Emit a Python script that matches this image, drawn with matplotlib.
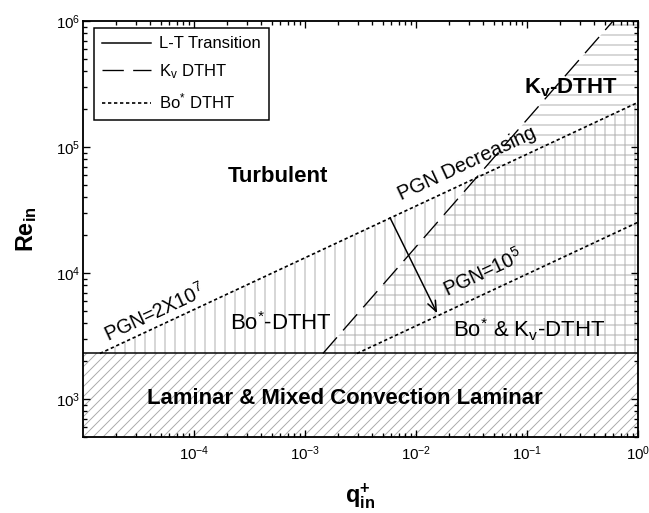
import matplotlib
matplotlib.use('Agg')
import matplotlib.pyplot as plt
from matplotlib.ticker import LogLocator, NullFormatter

# boundaries of the regime map (q+_in, Re_in)
lt_q = [1e-5, 1.0]            # laminar-turbulent transition
lt_re = [2300, 2300]
kv_q = [1.45e-3, 0.596]       # Kv DTHT criterion
kv_re = [2300, 1e6]
bo_hi_q = [1.42e-5, 1.0]      # Bo* DTHT, PGN = 2x10^7
bo_hi_re = [2300, 2.26e5]
bo_lo_q = [2.94e-3, 1.0]      # Bo* DTHT, PGN = 10^5
bo_lo_re = [2300, 2.53e4]

arrow_from = (5.83e-3, 2.75e4)
arrow_to = (1.55e-2, 4800)

xlim = (1e-5, 1.0)
ylim = (500, 1e6)
xticks = [1e-4, 1e-3, 1e-2, 1e-1, 1.0]
yticks = [1e3, 1e4, 1e5, 1e6]

plt.rcParams['font.family'] = ['Liberation Sans', 'DejaVu Sans']
plt.rcParams['mathtext.default'] = 'regular'
plt.rcParams['hatch.linewidth'] = 1.1
plt.rcParams['hatch.color'] = '#a8a8a8'

DPI = 60
fig = plt.figure(figsize=(649 / DPI, 513 / DPI), dpi=DPI)
ax = fig.add_axes([83 / 649, 1 - 437 / 513, 555 / 649, 416 / 513])
ax.set_xscale('log')
ax.set_yscale('log')
ax.set_xlim(*xlim)
ax.set_ylim(*ylim)

hatch_col = '#a8a8a8'
# laminar region
ax.fill_between(xlim, ylim[0], lt_re[0], facecolor='none', edgecolor=hatch_col,
                hatch='//', linewidth=0, zorder=0.5)
# Bo* region (vertical lines)
ax.fill_between(bo_hi_q, lt_re[0], bo_hi_re, facecolor='none', edgecolor=hatch_col,
                hatch='|', linewidth=0, zorder=0.5)
# Kv region (horizontal lines)
ax.fill_betweenx(kv_re, kv_q, xlim[1], facecolor='none', edgecolor=hatch_col,
                 hatch='-', linewidth=0, zorder=0.5)

dots = (0, (2, 1.6))
ax.plot(lt_q, lt_re, color='black', lw=1.8, label='L-T Transition', zorder=2)
ax.plot(kv_q, kv_re, color='black', lw=1.6, linestyle=(0, (16, 7)),
        label=r'$K_v$ DTHT', zorder=2)
ax.plot(bo_hi_q, bo_hi_re, color='black', lw=2.0, linestyle=dots,
        label=r'$Bo^{*}$ DTHT', zorder=2)
ax.plot(bo_lo_q, bo_lo_re, color='black', lw=2.0, linestyle=dots, zorder=2)

ax.annotate('', xy=arrow_to, xytext=arrow_from,
            arrowprops=dict(arrowstyle='->,head_length=0.5,head_width=0.2',
                            lw=1.8, color='black', shrinkA=0, shrinkB=0,
                            mutation_scale=25), zorder=3)

big = 26.5
ax.text(5.7e-4, 5.24e4, 'Turbulent', fontsize=big, fontweight='bold',
        ha='center', va='baseline')
ax.text(6.08e-4, 3550, r'$Bo^{*}$-DTHT', fontsize=big, ha='center', va='baseline')
ax.text(0.104, 3060, r'$Bo^{*}$ & $K_v$-DTHT', fontsize=big, ha='center', va='baseline')
ax.text(0.25, 2.67e5, r'$K_v$-DTHT', fontsize=big, fontweight='bold',
        ha='center', va='baseline')
ax.text(2.29e-3, 915, 'Laminar & Mixed Convection Laminar', fontsize=big,
        fontweight='bold', ha='center', va='baseline')
ax.text(0.0288, 7.4e4, 'PGN Decreasing', fontsize=24, rotation=25,
        rotation_mode='anchor', ha='center', va='center')
ax.text(4.4e-5, 4840, r'PGN=2X$10^{7}$', fontsize=23.5, rotation=25,
        rotation_mode='anchor', ha='center', va='center')
ax.text(0.0402, 1.0e4, r'PGN=$10^{5}$', fontsize=23.5, rotation=25,
        rotation_mode='anchor', ha='center', va='center')

ax.set_xticks(xticks)
ax.set_yticks(yticks)
ax.xaxis.set_minor_locator(LogLocator(base=10, subs=range(2, 10), numticks=20))
ax.yaxis.set_minor_locator(LogLocator(base=10, subs=range(2, 10), numticks=20))
ax.xaxis.set_minor_formatter(NullFormatter())
ax.yaxis.set_minor_formatter(NullFormatter())
ax.tick_params(which='both', direction='in', top=True, right=True, width=1.6)
ax.tick_params(which='major', length=8, labelsize=18)
ax.tick_params(which='minor', length=4.5)
ax.tick_params(axis='x', which='major', pad=9)
ax.tick_params(axis='y', which='major', pad=3)
for sp in ax.spines.values():
    sp.set_linewidth(2.2)

ax.set_xlabel(r'$q^{+}_{in}$', fontsize=28, fontweight='bold', labelpad=22)
ax.set_ylabel(r'$Re_{in}$', fontsize=28, fontweight='bold', labelpad=20)

leg = ax.legend(loc='upper left', bbox_to_anchor=(0.02, 0.983), borderaxespad=0,
                fontsize=20, handlelength=2.9, fancybox=False, framealpha=1,
                edgecolor='black', borderpad=0.5, labelspacing=0.65,
                handletextpad=0.5)
leg.get_frame().set_linewidth(1.8)

fig.savefig('out.png', dpi=DPI)
